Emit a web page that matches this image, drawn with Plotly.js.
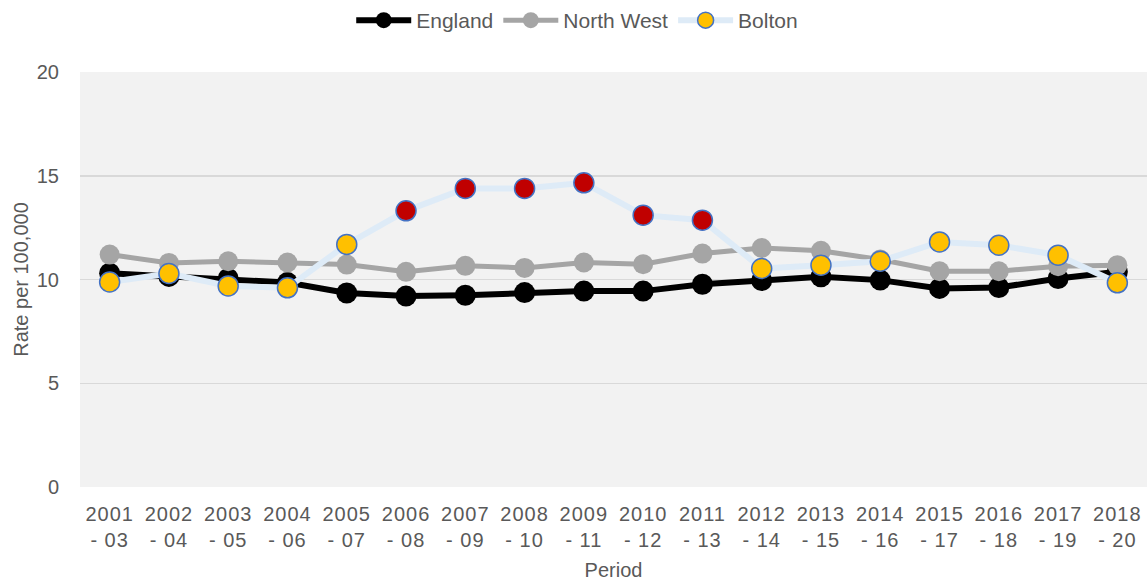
<!DOCTYPE html>
<html>
<head>
<meta charset="utf-8">
<script src="https://cdn.plot.ly/plotly-3.0.1.min.js"></script>
<style>html,body{margin:0;padding:0;background:#fff}#chart{width:1147px;height:581px}
.xtick text{letter-spacing:1px}</style>
</head>
<body>
<div id="chart"></div>
<script>
var periods = ["2001<br>- 03","2002<br>- 04","2003<br>- 05","2004<br>- 06","2005<br>- 07","2006<br>- 08","2007<br>- 09","2008<br>- 10","2009<br>- 11","2010<br>- 12","2011<br>- 13","2012<br>- 14","2013<br>- 15","2014<br>- 16","2015<br>- 17","2016<br>- 18","2017<br>- 19","2018<br>- 20"];
var england = [10.3, 10.15, 10.05, 9.85, 9.35, 9.2, 9.24, 9.37, 9.44, 9.44, 9.77, 9.95, 10.13, 9.97, 9.57, 9.61, 10.05, 10.37];
var northWest = [11.2, 10.8, 10.88, 10.82, 10.72, 10.37, 10.66, 10.56, 10.82, 10.74, 11.25, 11.52, 11.38, 10.96, 10.4, 10.4, 10.64, 10.69];
var bolton = [9.88, 10.29, 9.69, 9.6, 11.69, 13.31, 14.39, 14.39, 14.66, 13.1, 12.86, 10.53, 10.69, 10.88, 11.81, 11.65, 11.17, 9.84];
var boltonSignificant = [false,false,false,false,false,true,true,true,true,true,true,false,false,false,false,false,false,false];

var boltonColors = boltonSignificant.map(function(s){ return s ? "#c00000" : "#ffc000"; });

var traces = [
  {x: periods, y: england, name: "England", type: "scatter", mode: "lines+markers",
   line: {color: "#000000", width: 6}, marker: {color: "#000000", size: 21}},
  {x: periods, y: northWest, name: "North West", type: "scatter", mode: "lines+markers",
   line: {color: "#a5a5a5", width: 5}, marker: {color: "#a5a5a5", size: 20}},
  {x: periods, y: bolton, name: "Bolton", type: "scatter", mode: "lines+markers",
   line: {color: "#deebf7", width: 6},
   marker: {color: boltonColors, size: 20, line: {color: "#4472c4", width: 1.5}}}
];

var fam = "Liberation Sans, Arial, sans-serif";
var font = {family: fam, size: 20, color: "#595959"};

var layout = {
  width: 1147, height: 581,
  margin: {l: 80, r: 0, t: 72, b: 94},
  paper_bgcolor: "#ffffff",
  plot_bgcolor: "#f2f2f2",
  font: font,
  showlegend: true,
  legend: {orientation: "h", x: 0.466, xanchor: "center", y: 1.125, yanchor: "middle",
           font: {family: fam, size: 21, color: "#595959"}, itemwidth: 55,
           traceorder: "normal", bgcolor: "rgba(0,0,0,0)"},
  xaxis: {type: "category", range: [-0.5, 17.5], showgrid: false, zeroline: false,
          ticks: "outside", ticklen: 9, tickcolor: "rgba(0,0,0,0)", tickangle: 0,
          showline: false, tickfont: font,
          title: {text: "Period", font: {family: fam, size: 20, color: "#595959"}, standoff: 15}},
  yaxis: {range: [0, 20], dtick: 5, tick0: 0, showgrid: true, gridcolor: "#d9d9d9", gridwidth: 1.5,
          zeroline: false, showline: false, ticks: "outside", ticklen: 16, tickcolor: "rgba(0,0,0,0)",
          tickfont: font,
          title: {text: "Rate per 100,000", font: {family: fam, size: 20, color: "#595959"}, standoff: 2}}
};

Plotly.newPlot("chart", traces, layout, {displayModeBar: false, staticPlot: true});
</script>
</body>
</html>
